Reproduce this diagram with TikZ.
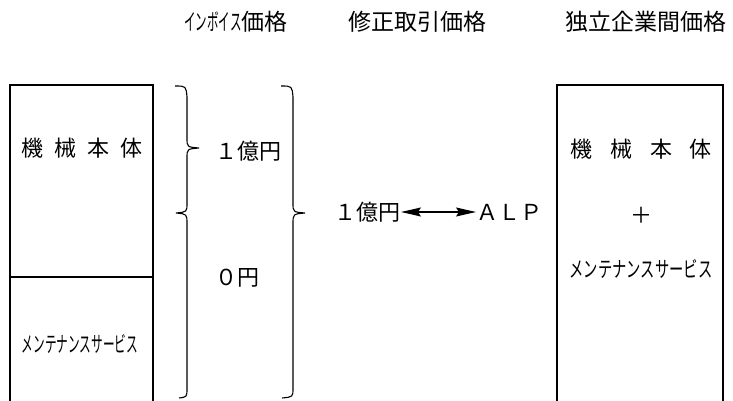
\documentclass[tikz,border=0pt]{standalone}
\usepackage{fontspec}
\usepackage{graphicx}
\newfontfamily\jp{Noto Sans CJK JP}
\newcommand\halfw[1]{\scalebox{0.5}[1]{#1}}
\usetikzlibrary{arrows.meta}
\tikzset{
  hdr/.style={inner sep=0pt, font=\jp\fontsize{23pt}{23pt}\selectfont},
  lbl/.style={inner sep=0pt, font=\jp\fontsize{22pt}{22pt}\selectfont},
  small/.style={inner sep=0pt, font=\jp\fontsize{22pt}{22pt}\selectfont},
  boxline/.style={line width=2pt},
  bracel/.style={line width=1.1pt},
  dblarrow/.style={line width=1.2pt, >={Stealth[length=20pt,width=9pt,inset=3pt]}, <->},
}
\begin{document}
\begin{tikzpicture}[x=1pt,y=-1pt]
\useasboundingbox (0,0) rectangle (733,401);
% headers
\node[hdr] (h1) at (236,22) {\halfw{インボイス}価格};
\node[hdr] (h2) at (417,22) {修正取引価格};
\node[hdr] (h3) at (646,22) {独立企業間価格};
% left box
\draw[boxline] (10,401) -- (10,85) -- (153,85) -- (153,401);
\draw[boxline] (10,277) -- (153,277);
\node[lbl] (m1) at (82,148) {機\hspace{11pt}械\hspace{11pt}本\hspace{11pt}体};
\node[small] (s1) at (80,344) {\scalebox{0.53}[1]{メンテナンスサービス}};
% small braces
\draw[bracel] (175,86) .. controls (186,86) .. (187,97) -- (187,138)
  .. controls (187,147) .. (199,148) .. controls (187,149) .. (187,158)
  -- (187,203) .. controls (187,212) .. (176,213)
  .. controls (187,214) .. (187,224) -- (187,388) .. controls (187,397) .. (179,398);
% big brace
\draw[bracel] (281,86) .. controls (292,86) .. (293,97) -- (293,203)
  .. controls (293,212) .. (305,213) .. controls (293,214) .. (293,224)
  -- (293,388) .. controls (293,397) .. (282,398);
\node[lbl, anchor=west] (v1) at (215,151) {１億円};
\node[lbl, anchor=west] (v0) at (215,278) {０円};
% middle
\node[lbl, anchor=east] (mid) at (401,212) {１億円};
\node[lbl, anchor=west] (alp) at (476,212) {ＡＬＰ};
\draw[dblarrow] (mid.east) -- (alp.west);
% right box
\draw[boxline] (557,401) -- (557,85) -- (723,85) -- (723,401);
\node[lbl] (r1) at (641,149) {機\hspace{18pt}械\hspace{18pt}本\hspace{18pt}体};
\node[lbl] (plus) at (641,215) {＋};
\node[small] (r2) at (641,269) {\scalebox{0.65}[1]{メンテナンスサービス}};
\end{tikzpicture}
\end{document}
